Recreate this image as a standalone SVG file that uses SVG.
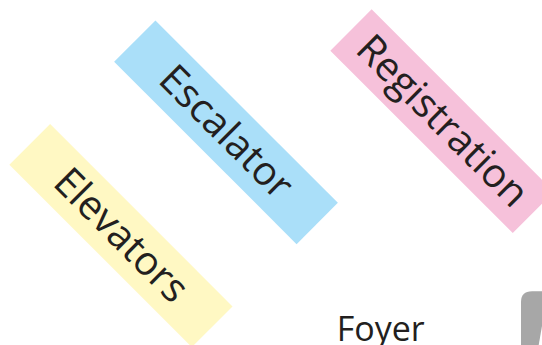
<svg xmlns="http://www.w3.org/2000/svg" width="542" height="345" viewBox="0 0 542 345">
  <style>
    .box { stroke: none; }
    .lbl { font-family: "Open Sans", "Noto Sans", sans-serif; fill: #231f20; }
    .rot { font-size: 40px; text-anchor: middle; }
  </style>
  <rect width="542" height="345" fill="#ffffff"/>
  <g id="elevators" transform="translate(120.95,235.55) rotate(45)">
    <rect class="box" x="-129" y="-28.8" width="258" height="57.6" fill="#fff8c3"/>
    <text class="lbl rot" x="0" y="13">Elevators</text>
  </g>
  <g id="escalator" transform="translate(226,132.3) rotate(45)">
    <rect class="box" x="-129" y="-29.2" width="258" height="58.4" fill="#aadff9"/>
    <text class="lbl rot" x="0" y="13">Escalator</text>
  </g>
  <g id="registration" transform="translate(442.2,121.2) rotate(45)">
    <rect class="box" x="-129" y="-29.2" width="258" height="58.4" fill="#f6c1da"/>
    <text class="lbl rot" x="0" y="13">Registration</text>
  </g>
  <g id="foyer">
    <text class="lbl" x="336.7" y="341" font-size="34">Foyer</text>
  </g>
  <g id="gray-shape">
    <path d="M521,345 L521,302 Q521,291.3 532,291.3 L542,291.3 L542,326 L538.7,345 Z" fill="#a7a7a7"/>
  </g>
  <g id="connectors"></g>
</svg>
